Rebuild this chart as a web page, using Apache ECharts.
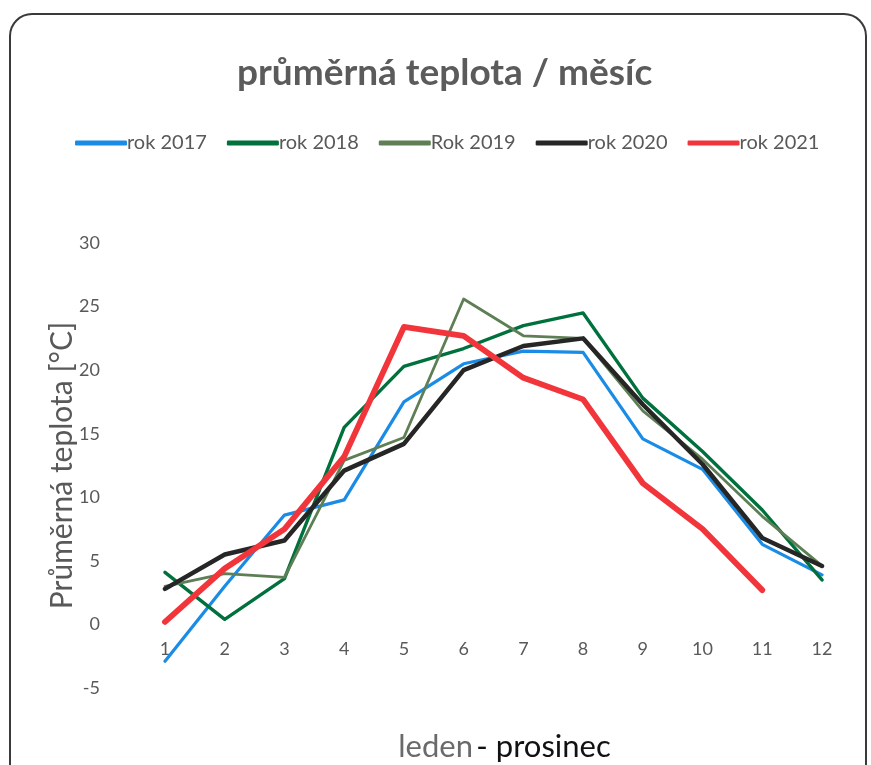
<!DOCTYPE html>
<html>
<head>
<meta charset="utf-8">
<script src="https://cdn.jsdelivr.net/npm/echarts@6/dist/echarts.min.js"></script>
<style>
html,body{margin:0;padding:0;background:#fff;}
#chart{width:871px;height:765px;}
</style>
</head>
<body>
<div id="chart"></div>
<script>
const months = ['1','2','3','4','5','6','7','8','9','10','11','12'];
const yearNames = ['rok 2017','rok 2018','Rok 2019','rok 2020','rok 2021'];
const rok2017 = [-2.9, 3.0, 8.6, 9.8, 17.5, 20.5, 21.5, 21.4, 14.6, 12.2, 6.3, 3.9];
const rok2018 = [4.1, 0.4, 3.6, 15.5, 20.3, 21.7, 23.5, 24.5, 17.8, 13.6, 9.0, 3.5];
const rok2019 = [3.0, 4.0, 3.7, 12.9, 14.7, 25.6, 22.7, 22.5, 16.8, 13.0, 8.5, 4.6];
const rok2020 = [2.8, 5.5, 6.6, 12.1, 14.2, 20.0, 21.9, 22.5, 17.3, 12.6, 6.8, 4.6];
const rok2021 = [0.2, 4.4, 7.5, 13.2, 23.4, 22.7, 19.4, 17.7, 11.1, 7.5, 2.7, null];
const yTicks = [-5, 0, 5, 10, 15, 20, 25, 30];

const colors = ['#1a8ce6', '#00703c', '#5e7f55', '#262626', '#f2353b'];
const widths = [3.2, 3.4, 2.8, 4.5, 5.8];
const seriesData = [rok2017, rok2018, rok2019, rok2020, rok2021];

const chart = echarts.init(document.getElementById('chart'));
chart.setOption({
  backgroundColor: '#fff',
  animation: false,
  title: {
    text: 'průměrná teplota / měsíc',
    left: 232,
    top: 50,
    textStyle: {fontFamily: 'Lato', fontWeight: 'bold', fontSize: 37, color: '#5b5b5b'}
  },
  legend: {
    data: yearNames,
    top: 128,
    left: 70,
    itemWidth: 52,
    itemHeight: 5,
    itemGap: 20,
    icon: 'roundRect',
    textStyle: {fontFamily: 'Lato', fontSize: 20, color: '#595959', padding: [0,0,0,-5]}
  },
  grid: {left: 165, right: 49, top: 243, bottom: 77, containLabel: false, outerBoundsMode: 'none'},
  xAxis: {
    type: 'category',
    data: months,
    boundaryGap: false,
    position: 'bottom',
    offset: -65,
    axisLine: {show: false, onZero: false},
    axisTick: {show: false},
    axisLabel: {margin: 17, fontFamily: 'Lato', fontSize: 18, color: '#595959'},
    splitLine: {show: false},
    name: '{a|leden} {b|- prosinec}',
    nameLocation: 'middle',
    nameGap: 108,
    nameMoveOverlap: false,
    nameTextStyle: {
      padding: [0, 0, 0, 22],
      rich: {
        a: {fontFamily: 'Lato', fontSize: 31, color: '#6a6a6a'},
        b: {fontFamily: 'Lato', fontSize: 31, color: '#111'}
      }
    }
  },
  yAxis: {
    type: 'value',
    min: yTicks[0],
    max: yTicks[yTicks.length - 1],
    interval: 5,
    axisLine: {show: false},
    axisTick: {show: false},
    splitLine: {show: false},
    axisLabel: {margin: 65, fontFamily: 'Lato', fontSize: 18, color: '#595959'},
    name: 'Průměrná teplota [°C]',
    nameLocation: 'middle',
    nameGap: 88,
    nameMoveOverlap: false,
    nameTextStyle: {fontFamily: 'Lato', fontSize: 30, color: '#595959'}
  },
  graphic: [{
    type: 'rect',
    shape: {x: 10, y: 14, width: 856, height: 790, r: 22},
    style: {fill: 'none', stroke: '#3a3a3a', lineWidth: 2},
    silent: true,
    z: 100
  }],
  series: yearNames.map((n, i) => ({
    name: n,
    type: 'line',
    data: seriesData[i],
    showSymbol: false,
    symbol: 'none',
    connectNulls: false,
    lineStyle: {color: colors[i], width: widths[i], join: 'round', cap: 'round'},
    itemStyle: {color: colors[i]},
    z: 2 + (i === 2 ? 3 : i)
  }))
});
</script>
</body>
</html>
